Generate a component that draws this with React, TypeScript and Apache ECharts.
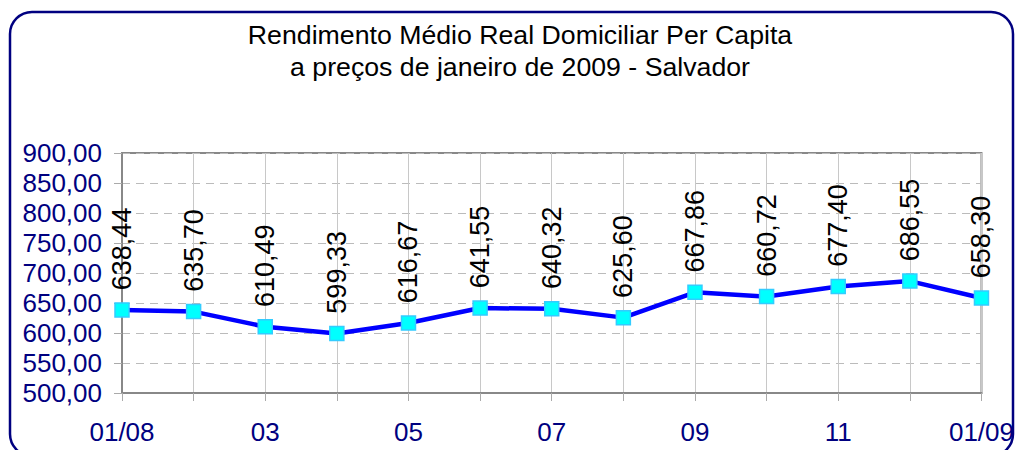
import React, { useEffect, useRef } from "react";
import * as echarts from "echarts";

const categories = ["01/08", "02", "03", "04", "05", "06", "07", "08", "09", "10", "11", "12", "01/09"];
const values = [638.44, 635.7, 610.49, 599.33, 616.67, 641.55, 640.32, 625.6, 667.86, 660.72, 677.4, 686.55, 658.3];
const titleLines = ["Rendimento Médio Real Domiciliar Per Capita", "a preços de janeiro de 2009 - Salvador"];
const yMin = 500;
const yMax = 900;
const yStep = 50;

const FONT = "'Liberation Sans', Arial, sans-serif";
const fmt = (v: number) => v.toFixed(2).replace(".", ",");

export default function App() {
  const ref = useRef<HTMLDivElement>(null);
  useEffect(() => {
    if (!ref.current) return;
    const chart = echarts.init(ref.current, undefined, { renderer: "svg" });
    chart.setOption({
      animation: false,
      backgroundColor: "#ffffff",
      title: {
        text: titleLines.join("\n"),
        left: 515,
        top: 14,
        textAlign: "center",
        textStyle: { fontFamily: FONT, fontSize: 26.7, fontWeight: "normal", color: "#000000", lineHeight: 32 },
      },
      graphic: [
        {
          type: "rect",
          shape: { x: 10, y: 12, width: 1003, height: 444, r: 22 },
          style: { fill: "none", stroke: "#000080", lineWidth: 2.5 },
          silent: true,
          z: -1,
        },
      ],
      grid: {
        left: 122,
        right: 35,
        top: 153,
        bottom: 57,
        show: true,
        borderColor: "#888888",
        borderWidth: 2,
        backgroundColor: "transparent",
      },
      xAxis: {
        type: "category",
        data: categories,
        boundaryGap: false,
        axisLine: { show: true, lineStyle: { color: "#888888", width: 2 } },
        axisTick: { show: true, interval: 0, length: 8, lineStyle: { color: "#aaaaaa" } },
        axisLabel: {
          interval: 1,
          margin: 26,
          color: "#000080",
          fontFamily: FONT,
          fontSize: 26,
        },
        splitLine: { show: true, interval: 0, lineStyle: { color: "#c8c8c8", width: 1 } },
      },
      yAxis: {
        type: "value",
        min: yMin,
        max: yMax,
        interval: yStep,
        axisLine: { show: true, lineStyle: { color: "#888888", width: 2 } },
        axisTick: { show: true, length: 8, lineStyle: { color: "#aaaaaa" } },
        axisLabel: {
          margin: 20,
          color: "#000080",
          fontFamily: FONT,
          fontSize: 26,
          formatter: (v: number) => fmt(v),
        },
        splitLine: { show: true, lineStyle: { color: "#bbbbbb", width: 1, type: [8, 6] } },
      },
      series: [
        {
          type: "line",
          data: values,
          symbol: "rect",
          symbolSize: 14,
          lineStyle: { color: "#0000ff", width: 4.5 },
          itemStyle: { color: "#00ffff", borderColor: "#33ccff", borderWidth: 1.5 },
          label: {
            show: true,
            position: "top",
            distance: 12,
            rotate: 90,
            align: "left",
            verticalAlign: "middle",
            color: "#000000",
            fontFamily: FONT,
            fontSize: 27,
            formatter: (p: any) => fmt(p.value),
          },
          z: 5,
        },
      ],
    });
    return () => chart.dispose();
  }, []);
  return <div ref={ref} style={{ position: "absolute", left: 0, top: 0, width: 1017, height: 450 }} />;
}
